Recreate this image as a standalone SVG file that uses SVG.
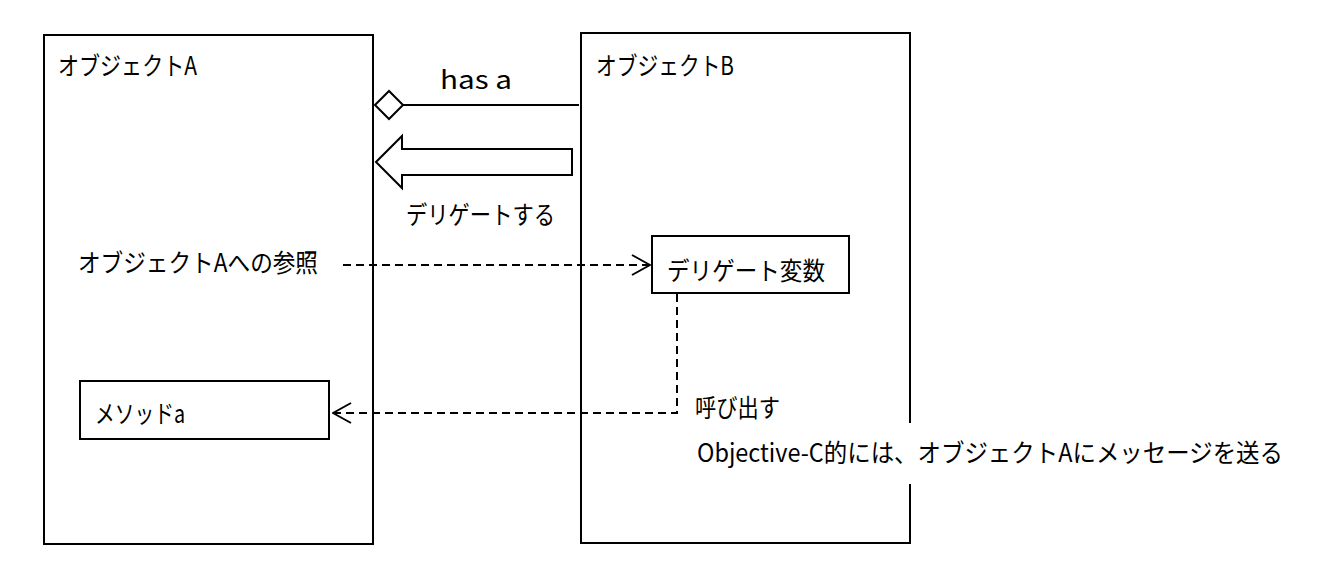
<svg xmlns="http://www.w3.org/2000/svg" width="1341" height="577" viewBox="0 0 1341 577">
<style>
.box{fill:#fff;stroke:#000;stroke-width:2}
.t{font-family:"Noto Sans CJK JP","Noto Sans",sans-serif;font-size:25px;fill:#000}
.ln{fill:none;stroke:#000;stroke-width:2}
.dash{fill:none;stroke:#000;stroke-width:2;stroke-dasharray:8 5}
</style>
<defs>
<marker id="open" viewBox="0 0 20 22" refX="19" refY="11" markerWidth="20" markerHeight="22" markerUnits="userSpaceOnUse" orient="auto">
<path d="M1,1 L19,11 L1,21" fill="none" stroke="#000" stroke-width="2"/>
</marker>
</defs>
<rect width="1341" height="577" fill="#fff"/>
<g id="objectA">
<rect class="box" x="44" y="35" width="329" height="509"/>
<text class="t" x="58" y="75" textLength="139" lengthAdjust="spacingAndGlyphs">オブジェクトA</text>
<text class="t" x="78" y="272" textLength="240" lengthAdjust="spacingAndGlyphs">オブジェクトAへの参照</text>
</g>
<g id="methodA">
<rect class="box" x="80" y="381" width="249" height="58"/>
<text class="t" x="95" y="423" textLength="90" lengthAdjust="spacingAndGlyphs">メソッドa</text>
</g>
<g id="objectB">
<rect class="box" x="581" y="33" width="329" height="510"/>
<text class="t" x="596" y="75" textLength="138" lengthAdjust="spacingAndGlyphs">オブジェクトB</text>
</g>
<g id="delegateVar">
<rect class="box" x="652" y="236" width="197" height="57"/>
<text class="t" x="667" y="280" textLength="158" lengthAdjust="spacingAndGlyphs">デリゲート変数</text>
</g>
<g id="connectors">
<line class="ln" x1="403" y1="105" x2="579" y2="105"/>
<path class="ln" d="M375,105 L389,91 L403,105 L389,119 Z" fill="#fff"/>
<text class="t" x="440" y="89" textLength="72" lengthAdjust="spacingAndGlyphs">has a</text>
<path class="ln" d="M376,162 L402,136 L402,149 L572,149 L572,175 L402,175 L402,188 Z" fill="#fff"/>
<text class="t" x="406" y="224" textLength="149" lengthAdjust="spacingAndGlyphs">デリゲートする</text>
<line class="dash" x1="343" y1="265" x2="650" y2="265" marker-end="url(#open)"/>
<polyline class="dash" points="677,294 677,413 333,413" marker-end="url(#open)"/>
<text class="t" x="695" y="417" textLength="85" lengthAdjust="spacingAndGlyphs">呼び出す</text>
<rect x="693" y="423" width="597" height="61" fill="#fff"/>
<text class="t" x="697" y="462" textLength="586" lengthAdjust="spacingAndGlyphs">Objective-C的には、オブジェクトAにメッセージを送る</text>
</g>
</svg>
